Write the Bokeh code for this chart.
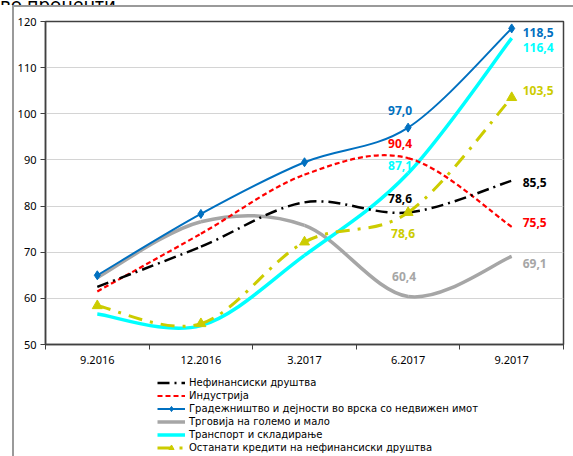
from bokeh.plotting import figure
from bokeh.layouts import column
from bokeh.models import (Range1d, FixedTicker, ColumnDataSource, Legend, LegendItem, Div)
from bokeh.embed import file_html
from bokeh.resources import INLINE

# ---- data -------------------------------------------------------------
periods = ["9.2016", "12.2016", "3.2017", "6.2017", "9.2017"]
y_ticks = [50, 60, 70, 80, 90, 100, 110, 120]

nefinansiski = [62.5, 71.2, 80.8, 78.6, 85.5]
industrija = [61.5, 74.0, 86.8, 90.4, 75.5]
gradeznistvo = [65.0, 78.3, 89.5, 97.0, 118.5]
trgovija = [64.5, 76.6, 75.8, 60.4, 69.1]
transport = [56.6, 54.1, 69.3, 87.1, 116.4]
ostanati = [58.4, 54.5, 72.2, 78.6, 103.5]

series_names = [
    "Нефинансиски друштва",
    "Индустрија",
    "Градежништво и дејности во врска со недвижен имот",
    "Трговија на големо и мало",
    "Транспорт и складирање",
    "Останати кредити на нефинансиски друштва",
]
heading = "во проценти"

FONT = "Noto Sans"
LEGEND_FONT = "DejaVu Sans"

# ---- styles -----------------------------------------------------------
# colour, width, dash, marker, label offsets at 6.2017 and 9.2017
styles = [
    dict(vals=nefinansiski, color="#000000", width=2.5, dash="12 5 2 5", marker=None,
         lab=[(-8, -14, "center"), (11, 2, "left")]),
    dict(vals=industrija, color="#FF0000", width=2.2, dash="5 3", marker=None,
         lab=[(-8, -15, "center"), (11, -4, "left")]),
    dict(vals=gradeznistvo, color="#0070C0", width=2, dash="solid", marker="diamond",
         lab=[(-8, -17, "center"), (11, 4, "left")]),
    dict(vals=trgovija, color="#A6A6A6", width=3.5, dash="solid", marker=None,
         lab=[(-4, -20, "center"), (11, 7, "left")]),
    dict(vals=transport, color="#00FFFF", width=3.5, dash="solid", marker=None,
         lab=[(-8, -8, "center"), (11, 9, "left")]),
    dict(vals=ostanati, color="#CCCC00", width=3, dash="14 8 3 8", marker="triangle",
         lab=[(-5, 21, "center"), (11, -7, "left")]),
]
draw_order = [3, 4, 1, 0, 5, 2]
xs = list(range(len(periods)))

p = figure(width=559, height=367, output_backend="svg", toolbar_location=None,
           x_range=Range1d(-0.5, 4.5), y_range=Range1d(50, 120),
           min_border_left=31, min_border_right=10, min_border_top=14,
           min_border_bottom=30, margin=0)
p.background_fill_color = "white"
p.border_fill_color = "white"
p.outline_line_color = "#404040"
p.outline_line_width = 1.5

# x axis: category labels centred, tick marks on the category boundaries
xa = p.xaxis[0]
xa.ticker = FixedTicker(ticks=xs, minor_ticks=[i - 0.5 for i in range(len(periods) + 1)])
xa.major_label_overrides = {i: lab for i, lab in enumerate(periods)}
xa.major_tick_line_color = None
xa.minor_tick_line_color = "#404040"
xa.minor_tick_in = 0
xa.minor_tick_out = 5
xa.axis_line_color = "#404040"
xa.axis_line_width = 1.5
xa.major_label_text_font = FONT
xa.major_label_text_font_size = "11px"
xa.major_label_text_color = "#000000"
xa.major_label_standoff = 5

ya = p.yaxis[0]
ya.ticker = FixedTicker(ticks=y_ticks, minor_ticks=[])
ya.major_tick_in = 0
ya.major_tick_out = 5
ya.major_tick_line_color = "#404040"
ya.axis_line_color = "#404040"
ya.axis_line_width = 1.5
ya.major_label_text_font = FONT
ya.major_label_text_font_size = "11px"
ya.major_label_text_color = "#000000"
ya.major_label_standoff = 4

p.xgrid.grid_line_color = None
p.ygrid.ticker = FixedTicker(ticks=y_ticks)
p.ygrid.grid_line_color = "#D4D4D4"
p.ygrid.grid_line_width = 1


def smooth_segments(vals):
    """Bezier control points for a smoothed line through the values."""
    n = len(vals)
    d = dict(x0=[], y0=[], x1=[], y1=[], cx0=[], cy0=[], cx1=[], cy1=[])
    for i in range(n - 1):
        a = max(i - 1, 0)
        b = min(i + 2, n - 1)
        d["x0"].append(xs[i]); d["y0"].append(vals[i])
        d["x1"].append(xs[i + 1]); d["y1"].append(vals[i + 1])
        d["cx0"].append(xs[i] + (xs[i + 1] - xs[a]) / 6)
        d["cy0"].append(vals[i] + (vals[i + 1] - vals[a]) / 6)
        d["cx1"].append(xs[i + 1] - (xs[b] - xs[i]) / 6)
        d["cy1"].append(vals[i + 1] - (vals[b] - vals[i]) / 6)
    return d


def marker_size(st):
    return 10 if st["marker"] == "triangle" else 9


for k in draw_order:
    st = styles[k]
    p.bezier(x0="x0", y0="y0", x1="x1", y1="y1", cx0="cx0", cy0="cy0",
             cx1="cx1", cy1="cy1", source=ColumnDataSource(smooth_segments(st["vals"])),
             line_color=st["color"], line_width=st["width"], line_dash=st["dash"])
    if st["marker"]:
        p.scatter(x=xs, y=st["vals"], marker=st["marker"], size=marker_size(st),
                  fill_color=st["color"], line_color=st["color"])

# value labels at the last two periods
for k in draw_order:
    st = styles[k]
    for j, idx in enumerate([3, 4]):
        dx, dy, align = st["lab"][j]
        v = st["vals"][idx]
        p.text(x=[idx], y=[v], text=[f"{v:.1f}".replace(".", ",")],
               x_offset=dx, y_offset=dy, text_align=align, text_baseline="middle",
               text_color=st["color"], text_font_size="12px", text_font_style="bold",
               text_font={"value": FONT})

# ---- legend strip under the chart ------------------------------------
# the series are drawn again here outside the visible range, only to feed the legend
lg = figure(width=559, height=82, output_backend="svg", toolbar_location=None,
            x_range=Range1d(0, 1), y_range=Range1d(0, 1), margin=0,
            min_border=0, x_axis_type=None, y_axis_type=None)
lg.outline_line_color = None
lg.xgrid.grid_line_color = None
lg.ygrid.grid_line_color = None
lg.background_fill_color = "white"
lg.border_fill_color = "white"

items = []
for k, st in enumerate(styles):
    rs = [lg.line(x=xs, y=st["vals"], line_color=st["color"], line_width=st["width"],
                  line_dash=st["dash"])]
    if st["marker"]:
        rs.append(lg.scatter(x=xs, y=st["vals"], marker=st["marker"], size=marker_size(st) - 2,
                             fill_color=st["color"], line_color=st["color"]))
    items.append(LegendItem(label=series_names[k], renderers=rs))

legend = Legend(items=items, location=(112, 2), orientation="vertical")
legend.border_line_color = None
legend.background_fill_alpha = 0
legend.label_text_font = LEGEND_FONT
legend.label_text_font_size = "10px"
legend.label_text_color = "#000000"
legend.label_height = 13
legend.glyph_height = 13
legend.glyph_width = 28
legend.spacing = 0
legend.padding = 0
legend.margin = 0
legend.label_standoff = 4
lg.add_layout(legend, "center")

# ---- page -------------------------------------------------------------
chart = column(p, lg, spacing=0, margin=(0, 0, 0, 12),
               styles={"border-top": "2px solid #9A9A9A", "border-left": "2px solid #9A9A9A"})

# heading strip above the chart border (only its lower edge shows)
title_div = Div(
    text=(f'<div style="font-family:\'{FONT}\';font-size:19px;line-height:19px;'
          f'margin-top:-18px;white-space:nowrap;color:#000">{heading}</div>'),
    width=573, height=5, margin=0, styles={"overflow": "hidden"})

page = column(title_div, chart, spacing=0, margin=0)

open("out.html", "w").write(file_html(page, INLINE))
